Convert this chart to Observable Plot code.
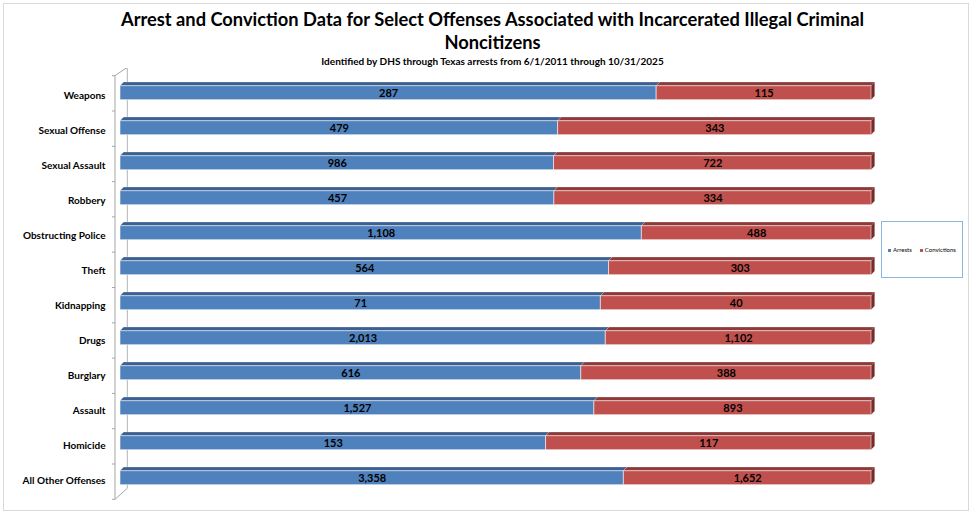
<!DOCTYPE html>
<html><head><meta charset="utf-8">
<script src="https://cdn.jsdelivr.net/npm/d3@7"></script>
<script src="https://cdn.jsdelivr.net/npm/@observablehq/plot@0.6"></script>
<style>
body{margin:0;background:#fff;font-family:Lato,"Open Sans",sans-serif}
#wrap{position:relative;width:975px;height:515px;overflow:hidden;background:#fff}
#frame{position:absolute;left:3px;top:3px;width:966px;height:508px;border:1px solid #d9d9d9;box-sizing:border-box;pointer-events:none}
#title{position:absolute;left:0;top:0;width:975px;height:68px;box-sizing:border-box;padding-left:10px;text-align:center;color:#000}
#title .t{font-weight:bold;font-size:18.3px;line-height:23px;padding-top:8px}
#title .s{font-weight:bold;font-size:10px;line-height:12px;margin-top:1px}
#chart{position:absolute;left:0;top:68px}
#legend{position:absolute;left:881px;top:221px;width:82px;height:57px;box-sizing:border-box;border:1.5px solid #8EB4E3;display:flex;align-items:center;justify-content:center;gap:8px;font-size:6px;color:#000}
#legend i{display:inline-block;width:3px;height:3px;margin-right:2px;vertical-align:middle}
</style></head>
<body>
<div id="wrap">
  <div id="frame"></div>
  <div id="title"><div class="t">Arrest and Conviction Data for Select Offenses Associated with Incarcerated Illegal Criminal<br>Noncitizens</div><div class="s">Identified by DHS through Texas arrests from 6/1/2011 through 10/31/2025</div></div>
  <div id="chart"></div>
  <div id="legend"></div>
</div>
<script>
const categories = ["Weapons","Sexual Offense","Sexual Assault","Robbery","Obstructing Police","Theft","Kidnapping","Drugs","Burglary","Assault","Homicide","All Other Offenses"];
const arrests = [287,479,986,457,1108,564,71,2013,616,1527,153,3358];
const convictions = [115,343,722,334,488,303,40,1102,388,893,117,1652];
const seriesNames = ["Arrests","Convictions"];
const seriesColors = ["#4F81BD","#C0504D"];
const topColors = ["#3B6091","#8E3A38"];
const sideColor = "#772C2A";

const rows = categories.flatMap((c, i) => [
  {cat: c, series: seriesNames[0], value: arrests[i]},
  {cat: c, series: seriesNames[1], value: convictions[i]}
]);
const segs = categories.flatMap((c, i) => {
  const t = arrests[i] + convictions[i];
  return [{cat: c, s: 0, x1: 0, x2: arrests[i] / t}, {cat: c, s: 1, x1: arrests[i] / t, x2: 1}];
});

const barDy = -2.3;
const depth = 3.6;

function bandInfo(y) {
  return typeof y.bandwidth === "function" ? y.bandwidth() : 14;
}

// back wall line (behind bars)
function wallBack(index, scales) {
  const g = d3.create("svg:g");
  const x0 = scales.x(0), [r0, r1] = scales.y.range();
  g.append("line").attr("x1", x0 + 7.3).attr("x2", x0 + 7.3).attr("y1", r0 - 8.4).attr("y2", r1 - 11)
    .attr("stroke", "#b3b3b3").attr("stroke-width", 1);
  return g.node();
}
// front wall line, slants and ticks
function wallFront(index, scales) {
  const g = d3.create("svg:g").attr("stroke", "#a6a6a6").attr("fill", "none");
  const x0 = scales.x(0), [r0, r1] = scales.y.range();
  const fx = x0 - 5;
  g.append("line").attr("x1", fx).attr("x2", fx).attr("y1", r0).attr("y2", r1);
  g.append("line").attr("x1", fx).attr("x2", x0 + 7.3).attr("y1", r0).attr("y2", r0 - 8.4);
  g.append("line").attr("x1", fx).attr("x2", x0 + 7.3).attr("y1", r1).attr("y2", r1 - 11);
  const step = (r1 - r0) / categories.length;
  for (let k = 0; k <= categories.length; k++) {
    const yy = r0 + k * step;
    g.append("line").attr("x1", fx - 3).attr("x2", fx).attr("y1", yy).attr("y2", yy);
  }
  return g.node();
}
// 3D top and side faces of bars
function barDepth(index, scales) {
  const g = d3.create("svg:g");
  const x = scales.x, y = scales.y, bw = bandInfo(y), d = depth;
  for (const s of segs) {
    const X1 = x(s.x1), X2 = x(s.x2), T = y(s.cat) + barDy, B = T + bw;
    g.append("path").attr("d", `M${X1},${T}L${X1 + d},${T - d}L${X2 + d},${T - d}L${X2},${T}Z`)
      .attr("fill", topColors[s.s]).attr("stroke", "#ffffff").attr("stroke-opacity", 0.35).attr("stroke-width", 0.6);
    if (s.s === 1) {
      g.append("path").attr("d", `M${X2},${T}L${X2 + d},${T - d}L${X2 + d},${B - d}L${X2},${B}Z`)
        .attr("fill", sideColor);
    }
  }
  return g.node();
}

const chart = Plot.plot({
  width: 975,
  height: 440,
  marginLeft: 120,
  marginRight: 104,
  marginTop: 7.7,
  marginBottom: 8.7,
  style: {fontFamily: "Lato, 'Open Sans', sans-serif", fontSize: "10px", fontWeight: "bold", color: "#000", background: "transparent"},
  x: {axis: null, domain: [0, 1]},
  y: {domain: categories, paddingInner: 0.6, paddingOuter: 0.3, tickSize: 0, tickPadding: 15, label: null},
  color: {domain: seriesNames, range: seriesColors},
  marks: [
    wallBack,
    barDepth,
    Plot.barX(rows, Plot.stackX({x: "value", y: "cat", fill: "series", offset: "normalize", dy: barDy, stroke: "#ffffff", strokeOpacity: 0.55, strokeWidth: 1})),
    Plot.text(rows, Plot.stackX({x: "value", y: "cat", offset: "normalize", text: d => d3.format(",")(d.value), dy: barDy, fill: "#000", fontWeight: "bold", fontSize: 11})),
    wallFront
  ]
});
document.getElementById("chart").appendChild(chart);

const leg = document.getElementById("legend");
seriesNames.forEach((n, i) => {
  const sp = document.createElement("span");
  sp.innerHTML = `<i style="background:${seriesColors[i]}"></i>${n}`;
  leg.appendChild(sp);
});
</script>
</body></html>
